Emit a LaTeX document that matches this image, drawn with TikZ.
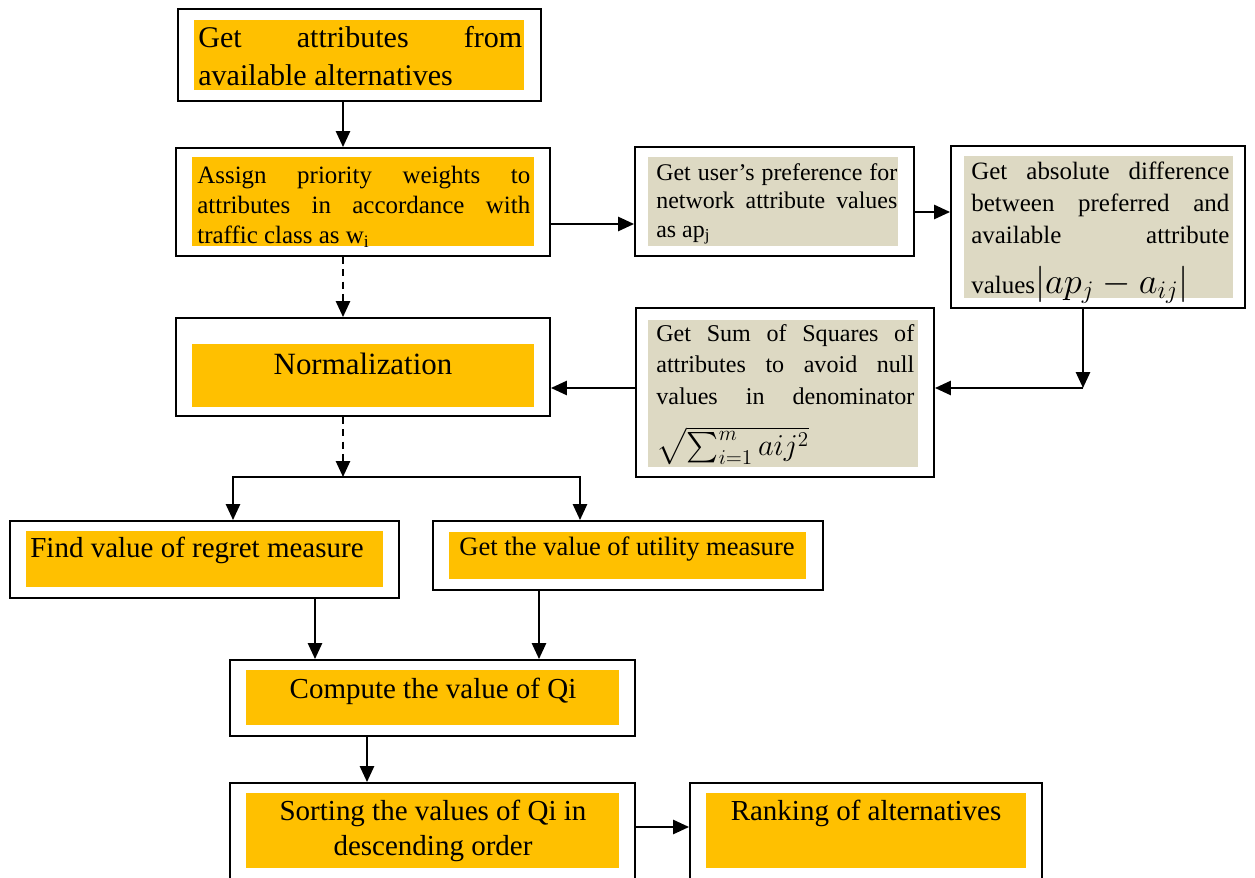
\documentclass[tikz,border=0pt]{standalone}
\usepackage{amsmath}
\usepackage{fontspec}
\setmainfont{Liberation Serif}
\usetikzlibrary{arrows.meta,fit}
\definecolor{boxgold}{RGB}{255,192,0}
\definecolor{boxtan}{RGB}{221,217,195}
\hyphenpenalty=10000
\exhyphenpenalty=10000
\tolerance=9999
\emergencystretch=3em

\begin{document}
\begin{tikzpicture}[x=0.02cm, y=-0.02cm, >={Triangle[length=9pt, width=8pt]},
    frame/.style={draw, line width=1.1pt, inner sep=0pt},
    gold/.style={fill=boxgold},
    tan/.style={fill=boxtan},
    txt/.style={inner sep=0pt, anchor=north west, align=justify},
    link/.style={->, line width=1.2pt},
    dashlink/.style={link, dash pattern=on 4pt off 3pt}]
  \useasboundingbox (0,0) rectangle (1255,878);

  % coloured backgrounds
  \fill[gold] (194,20) rectangle (524,90);
  \fill[gold] (192,157) rectangle (534,246);
  \fill[tan] (648,157) rectangle (898,246);
  \fill[tan] (964,156) rectangle (1233,298);
  \fill[gold] (192,344) rectangle (534,407);
  \fill[tan] (648,320) rectangle (918,467);
  \fill[gold] (26,531) rectangle (383,587);
  \fill[gold] (449,532) rectangle (806,579);
  \fill[gold] (246,670) rectangle (619,725);
  \fill[gold] (246,793) rectangle (619,868);
  \fill[gold] (706,793) rectangle (1026,868);

  % frames
  \node[frame, fit={(178,9) (541,101)}] (get) {};
  \node[frame, fit={(176,148) (550,256)}] (assign) {};
  \node[frame, fit={(635,147) (914,256)}] (pref) {};
  \node[frame, fit={(951,146) (1245,308)}] (diff) {};
  \node[frame, fit={(176,318) (550,416)}] (norm) {};
  \node[frame, fit={(636,308) (934,477)}] (sumsq) {};
  \node[frame, fit={(10,521) (399,598)}] (regret) {};
  \node[frame, fit={(433,521) (823,590)}] (utility) {};
  \node[frame, fit={(230,660) (635,736)}] (qi) {};
  \node[frame, fit={(230,783) (635,886)}] (sorting) {};
  \node[frame, fit={(690,783) (1042,886)}] (ranking) {};

  % texts
  \node[txt, text width=6.48cm, font=\fontsize{17.1}{21.6}\selectfont] (get-t) at (198,26)
    {Get attributes from available alternatives};
  \node[txt, text width=6.66cm, font=\fontsize{14.2}{17.1}\selectfont] (assign-t) at (197,166)
    {Assign priority weights to attributes in accordance with traffic class as w\textsubscript{i}};
  \node[txt, text width=4.82cm, font=\fontsize{13.6}{16.2}\selectfont] (pref-t) at (656,163)
    {Get user's preference for network attribute values as ap\textsubscript{j}};
  \node[txt, text width=5.16cm, font=\fontsize{14.2}{18.2}\selectfont] (diff-t) at (971,162)
    {Get absolute difference between preferred and\linebreak available attribute
     \mbox{\rule{0pt}{27pt}values{\fontsize{20}{20}\selectfont$|ap_j-a_{ij}|$}}};
  \node[txt, text width=5.16cm, font=\fontsize{13.7}{17.9}\selectfont] (sumsq-t) at (656,324)
    {Get Sum of Squares of attributes to avoid null values in denominator
     \mbox{\rule{0pt}{28pt}\fontsize{17}{17}\selectfont$\sqrt{\sum_{i=1}^{m} aij^2}$}};
  \node[inner sep=0pt, anchor=base, font=\fontsize{17.6}{21}\selectfont] (norm-t) at (363,375) {Normalization};
  \node[inner sep=0pt, anchor=base west, font=\fontsize{16.5}{20}\selectfont] (regret-t) at (30,558)
    {Find value of regret measure};
  \node[inner sep=0pt, anchor=base west, font=\fontsize{15.1}{18}\selectfont] (utility-t) at (459,556)
    {Get the value of utility measure};
  \node[inner sep=0pt, anchor=base, font=\fontsize{16.5}{20}\selectfont] (qi-t) at (433,698)
    {Compute the value of Qi};
  \node[inner sep=0pt, anchor=north, align=center, font=\fontsize{16.5}{19.9}\selectfont] (sorting-t) at (433,800)
    {Sorting the values of Qi in\\descending order};
  \node[inner sep=0pt, anchor=base, font=\fontsize{16.5}{20}\selectfont] (ranking-t) at (866,820)
    {Ranking of alternatives};

  % connector helpers
  \coordinate (trunk) at (343,0);
  \coordinate (prefrow) at (0,224);
  \coordinate (diffrow) at (0,212);
  \coordinate (bend) at (1083,388);
  \coordinate (split) at (343,477);
  \coordinate (leftdrop) at (233,0);
  \coordinate (rightdrop) at (580,0);
  \coordinate (regretdrop) at (315,0);
  \coordinate (utildrop) at (539,0);
  \coordinate (qidrop) at (367,0);
  \coordinate (rankrow) at (0,827);

  % connectors
  \draw[link] (get.south -| trunk) -- (assign.north -| trunk);
  \draw[link] (assign.east |- prefrow) -- (pref.west |- prefrow);
  \draw[link] (pref.east |- diffrow) -- (diff.west |- diffrow);
  \draw[link] (diff.south -| bend) -- (bend);
  \draw[link] (bend) -- (sumsq.east |- bend);
  \draw[link] (sumsq.west |- bend) -- (norm.east |- bend);
  \draw[dashlink] (assign.south -| trunk) -- (norm.north -| trunk);
  \draw[dashlink] (norm.south -| trunk) -- (split);
  \draw[link] (split) -| (regret.north -| leftdrop);
  \draw[link] (split) -| (utility.north -| rightdrop);
  \draw[link] (regret.south -| regretdrop) -- (qi.north -| regretdrop);
  \draw[link] (utility.south -| utildrop) -- (qi.north -| utildrop);
  \draw[link] (qi.south -| qidrop) -- (sorting.north -| qidrop);
  \draw[link] (sorting.east |- rankrow) -- (ranking.west |- rankrow);
\end{tikzpicture}
\end{document}
